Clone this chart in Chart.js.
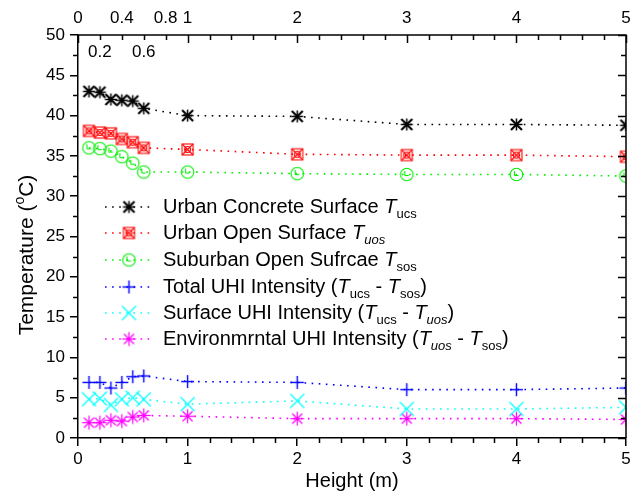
<!DOCTYPE html>
<html>
<head>
<meta charset="utf-8">
<title>Temperature vs Height</title>
<script src="https://cdn.jsdelivr.net/npm/chart.js@4.4.1/dist/chart.umd.min.js"></script>
<style>
  body { margin: 0; background: #fff; }
  canvas { display: block; }
</style>
</head>
<body>
<canvas id="tempChart" width="638" height="494"></canvas>
<script>
// measurement heights (m)
const heights = [0.1, 0.2, 0.3, 0.4, 0.5, 0.6, 1, 2, 3, 4, 5];

// surface temperatures (°C)
const tUcs = [43.0, 42.9, 42.0, 41.9, 41.8, 40.9, 40.0, 39.9, 38.9, 38.9, 38.8];
const tUos = [38.1, 37.9, 37.8, 37.1, 36.7, 36.0, 35.8, 35.2, 35.1, 35.1, 34.9];
const tSos = [36.0, 35.9, 35.6, 34.9, 34.1, 33.0, 33.0, 32.8, 32.7, 32.7, 32.5];

// UHI intensities (°C)
const totalUhi = [6.9, 6.9, 6.2, 6.9, 7.6, 7.7, 7.0, 6.9, 6.0, 6.0, 6.2];
const surfaceUhi = [4.8, 4.9, 4.1, 4.8, 5.0, 4.8, 4.2, 4.6, 3.6, 3.6, 3.8];
const envUhi = [1.9, 1.9, 2.2, 2.1, 2.6, 2.8, 2.7, 2.4, 2.4, 2.4, 2.3];

// top axis labels (second row sits just below the frame)
const topLabels = [0, 0.4, 0.8, 1, 2, 3, 4, 5];
const topLabelsLow = [0.2, 0.6];

// legend text: [text, style] where style is n / i / sub / subi
const legendLabels = [
  [['Urban Concrete Surface ', 'n'], ['T', 'i'], ['ucs', 'sub']],
  [['Urban Open Surface ', 'n'], ['T', 'i'], ['uos', 'subi']],
  [['Suburban Open Sufrcae ', 'n'], ['T', 'i'], ['sos', 'sub']],
  [['Total UHI Intensity (', 'n'], ['T', 'i'], ['ucs', 'sub'], [' - ', 'n'], ['T', 'i'], ['sos', 'sub'], [')', 'n']],
  [['Surface UHI Intensity (', 'n'], ['T', 'i'], ['ucs', 'sub'], [' - ', 'n'], ['T', 'i'], ['uos', 'subi'], [')', 'n']],
  [['Environmrntal UHI Intensity (', 'n'], ['T', 'i'], ['uos', 'subi'], [' - ', 'n'], ['T', 'i'], ['sos', 'sub'], [')', 'n']]
];

const FONT = '"Liberation Sans", Arial, sans-serif';

// small canvases used as point symbols
function makeMarker(kind, color) {
  const size = 19, c = size / 2;
  const cv = document.createElement('canvas');
  cv.width = size; cv.height = size;
  const g = cv.getContext('2d');
  g.strokeStyle = color;
  g.lineWidth = 1.1;
  const line = (x1, y1, x2, y2) => {
    g.beginPath(); g.moveTo(c + x1, c + y1); g.lineTo(c + x2, c + y2); g.stroke();
  };
  switch (kind) {
    case 'boldStar':
      g.lineWidth = 1.5;
      line(-6, 0, 6, 0); line(0, -6, 0, 6);
      g.lineWidth = 2.1;
      line(-5.5, -5.5, 5.5, 5.5); line(-5.5, 5.5, 5.5, -5.5);
      break;
    case 'boxCross':
      g.strokeRect(c - 5.5, c - 5.5, 11, 11);
      line(-5.5, -5.5, 5.5, 5.5); line(-5.5, 5.5, 5.5, -5.5);
      g.beginPath(); g.arc(c, c, 3, 0, Math.PI * 2); g.stroke();
      break;
    case 'clock':
      g.beginPath(); g.arc(c, c, 6.3, 0, Math.PI * 2); g.stroke();
      line(-2, -3.5, -2, 1); line(-2, 1, 2, 1);
      break;
    case 'plus':
      g.lineWidth = 1.4;
      line(-6.5, 0, 6.5, 0); line(0, -6.5, 0, 6.5);
      break;
    case 'cross':
      g.lineWidth = 1.2;
      line(-7, -7, 7, 7); line(-7, 7, 7, -7);
      break;
    case 'star':
      g.lineWidth = 1.2;
      line(-7, 0, 7, 0); line(0, -7, 0, 7);
      line(-5, -5, 5, 5); line(-5, 5, 5, -5);
      break;
  }
  return cv;
}

const seriesStyle = [
  { color: '#000000', marker: makeMarker('boldStar', '#000000') },
  { color: '#ff0000', marker: makeMarker('boxCross', '#ff0000') },
  { color: '#00ee00', marker: makeMarker('clock', '#00ee00') },
  { color: '#0000ff', marker: makeMarker('plus', '#0000ff') },
  { color: '#00ffff', marker: makeMarker('cross', '#00ffff') },
  { color: '#ff00ff', marker: makeMarker('star', '#ff00ff') }
];

const seriesValues = [tUcs, tUos, tSos, totalUhi, surfaceUhi, envUhi];

function buildDataset(values, i) {
  const s = seriesStyle[i];
  return {
    data: heights.map((h, k) => ({ x: h, y: values[k] })),
    showLine: true,
    borderColor: s.color,
    borderWidth: 1.6,
    borderDash: [1.6, 5.5],
    pointStyle: s.marker,
    pointRadius: 7,
    pointHoverRadius: 7,
    clip: 0
  };
}

// rich text with italic T and subscripts
function drawRich(ctx, parts, x, y, size) {
  ctx.textAlign = 'left';
  ctx.textBaseline = 'middle';
  for (const [t, s] of parts) {
    let dy = 0;
    if (s === 'n') ctx.font = size + 'px ' + FONT;
    else if (s === 'i') ctx.font = 'italic ' + size + 'px ' + FONT;
    else if (s === 'sub') { ctx.font = Math.round(size * 0.65) + 'px ' + FONT; dy = size * 0.38; }
    else if (s === 'subi') { ctx.font = 'italic ' + Math.round(size * 0.65) + 'px ' + FONT; dy = size * 0.38; }
    else if (s === 'sup') { ctx.font = Math.round(size * 0.65) + 'px ' + FONT; dy = -size * 0.35; }
    ctx.fillText(t, x, y + dy);
    x += ctx.measureText(t).width;
  }
  return x;
}

function richWidth(ctx, parts, size) {
  let w = 0;
  for (const [t, s] of parts) {
    const small = s === 'sub' || s === 'subi' || s === 'sup';
    const italic = s === 'i' || s === 'subi';
    ctx.font = (italic ? 'italic ' : '') + (small ? Math.round(size * 0.65) : size) + 'px ' + FONT;
    w += ctx.measureText(t).width;
  }
  return w;
}

// frame, minor ticks, top axis, titles and legend
const decorations = {
  id: 'decorations',
  afterDraw(chart) {
    const { ctx, chartArea: a, scales: { x, y } } = chart;
    ctx.save();
    ctx.strokeStyle = '#000';
    ctx.fillStyle = '#000';
    ctx.lineWidth = 1.5;

    // top and right frame
    ctx.beginPath();
    ctx.moveTo(a.left, a.top); ctx.lineTo(a.right, a.top); ctx.lineTo(a.right, a.bottom);
    ctx.stroke();

    // x ticks every 0.2: bottom outward, top inward
    for (let k = 0; k <= 25; k++) {
      const v = k * 0.2;
      const px = Math.round(x.getPixelForValue(v)) + 0.5;
      const major = k % 5 === 0;
      ctx.beginPath();
      if (!major) { ctx.moveTo(px, a.bottom); ctx.lineTo(px, a.bottom + 5); }
      ctx.moveTo(px, a.top); ctx.lineTo(px, a.top + (major ? 8 : 5));
      ctx.stroke();
    }
    // y ticks every 2.5: left outward, right inward
    for (let k = 0; k <= 20; k++) {
      const py = Math.round(y.getPixelForValue(k * 2.5)) + 0.5;
      const major = k % 2 === 0;
      ctx.beginPath();
      if (!major) { ctx.moveTo(a.left, py); ctx.lineTo(a.left - 5, py); }
      ctx.moveTo(a.right, py); ctx.lineTo(a.right - (major ? 8 : 5), py);
      ctx.stroke();
    }

    // top axis labels
    ctx.font = '17px ' + FONT;
    ctx.textAlign = 'center';
    ctx.textBaseline = 'middle';
    topLabels.forEach(v => ctx.fillText(String(v), x.getPixelForValue(v), a.top - 17));
    topLabelsLow.forEach(v => ctx.fillText(String(v), x.getPixelForValue(v), a.top + 17));

    // axis titles
    ctx.font = '20px ' + FONT;
    ctx.fillText('Height (m)', (a.left + a.right) / 2, 481);
    const yTitle = [['Temperature (', 'n'], ['o', 'sup'], ['C)', 'n']];
    ctx.save();
    ctx.translate(27, 255);
    ctx.rotate(-Math.PI / 2);
    drawRich(ctx, yTitle, -richWidth(ctx, yTitle, 21) / 2, 0, 21);
    ctx.restore();

    // legend
    const rowY = [207, 233, 260, 287, 313, 339];
    legendLabels.forEach((parts, i) => {
      const s = seriesStyle[i];
      const ly = rowY[i];
      ctx.save();
      ctx.strokeStyle = s.color;
      ctx.lineWidth = 1.6;
      ctx.setLineDash([1.6, 5.5]);
      ctx.beginPath(); ctx.moveTo(105, ly); ctx.lineTo(153, ly); ctx.stroke();
      ctx.restore();
      ctx.drawImage(s.marker, 129 - s.marker.width / 2, ly - s.marker.height / 2);
      ctx.fillStyle = '#000';
      drawRich(ctx, parts, 163, ly, 20);
    });
    ctx.restore();
  }
};

new Chart(document.getElementById('tempChart'), {
  type: 'scatter',
  data: { datasets: seriesValues.map(buildDataset) },
  options: {
    responsive: false,
    animation: false,
    devicePixelRatio: 1,
    layout: { padding: { top: 35, right: 12, left: 0, bottom: 0 } },
    plugins: { legend: { display: false }, tooltip: { enabled: false } },
    scales: {
      x: {
        type: 'linear',
        min: 0, max: 5,
        afterFit: s => { s.height = 56; },
        ticks: { stepSize: 1, color: '#000', font: { size: 17, family: FONT }, padding: 3, maxRotation: 0 },
        grid: { drawOnChartArea: false, tickLength: 8, color: '#000', lineWidth: 1.5 },
        border: { color: '#000', width: 1.5 }
      },
      y: {
        min: 0, max: 50,
        afterFit: s => { s.width = 78; },
        ticks: { stepSize: 5, color: '#000', font: { size: 17, family: FONT }, padding: 5 },
        grid: { drawOnChartArea: false, tickLength: 8, color: '#000', lineWidth: 1.5 },
        border: { color: '#000', width: 1.5 }
      }
    }
  },
  plugins: [decorations]
});
</script>
</body>
</html>
